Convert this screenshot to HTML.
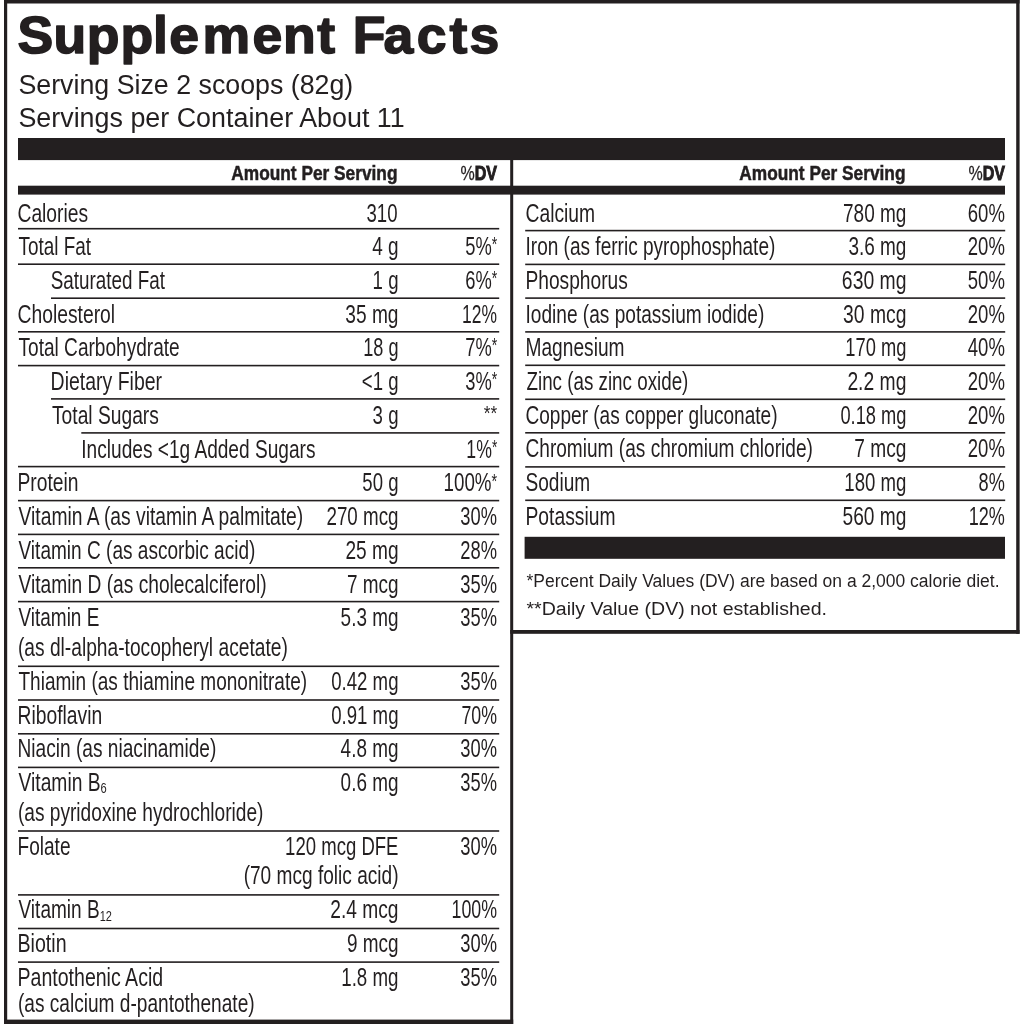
<!DOCTYPE html>
<html><head><meta charset="utf-8"><title>Supplement Facts</title>
<style>
html,body{margin:0;padding:0;background:#fff;width:1024px;height:1024px;overflow:hidden}
svg{display:block;will-change:transform}
text{font-family:"Liberation Sans",Arial,sans-serif;fill:#231f20}
rect{fill:#231f20}
</style></head><body>
<svg width="1024" height="1024" viewBox="0 0 1024 1024">
<rect x="4" y="0" width="1015.50" height="3.50"/>
<rect x="4" y="0" width="3.20" height="1024.00"/>
<rect x="1016.2" y="0" width="3.40" height="633.80"/>
<rect x="510.2" y="630.0" width="509.40" height="3.80"/>
<rect x="510.2" y="160" width="3.00" height="864.00"/>
<rect x="4" y="1019.6" width="509.20" height="4.40"/>
<rect x="18" y="138" width="987.00" height="22.10"/>
<rect x="18" y="185.7" width="987.00" height="8.90"/>
<rect x="524.6" y="536.8" width="480.40" height="22.00"/>
<rect x="18" y="227.89999999999998" width="481.20" height="1.60"/>
<rect x="18" y="263.4" width="481.20" height="1.60"/>
<rect x="51" y="297.4" width="448.20" height="1.60"/>
<rect x="18" y="331.0" width="481.20" height="1.60"/>
<rect x="18" y="364.8" width="481.20" height="1.60"/>
<rect x="51" y="398.09999999999997" width="448.20" height="1.60"/>
<rect x="81.3" y="432.09999999999997" width="417.90" height="1.60"/>
<rect x="18" y="465.8" width="481.20" height="1.60"/>
<rect x="18" y="499.8" width="481.20" height="1.60"/>
<rect x="18" y="533.6" width="481.20" height="1.60"/>
<rect x="18" y="567.0" width="481.20" height="1.60"/>
<rect x="18" y="600.8000000000001" width="481.20" height="1.60"/>
<rect x="18" y="665.5" width="481.20" height="1.60"/>
<rect x="18" y="699.2" width="481.20" height="1.60"/>
<rect x="18" y="733.0" width="481.20" height="1.60"/>
<rect x="18" y="766.6" width="481.20" height="1.60"/>
<rect x="18" y="830.2" width="481.20" height="1.60"/>
<rect x="18" y="894.1" width="481.20" height="1.60"/>
<rect x="18" y="927.7" width="481.20" height="1.60"/>
<rect x="18" y="961.3000000000001" width="481.20" height="1.60"/>
<rect x="525.2" y="229.79999999999998" width="480.00" height="1.60"/>
<rect x="525.2" y="263.59999999999997" width="480.00" height="1.60"/>
<rect x="525.2" y="297.3" width="480.00" height="1.60"/>
<rect x="525.2" y="331.09999999999997" width="480.00" height="1.60"/>
<rect x="525.2" y="364.5" width="480.00" height="1.60"/>
<rect x="525.2" y="398.5" width="480.00" height="1.60"/>
<rect x="525.2" y="432.0" width="480.00" height="1.60"/>
<rect x="525.2" y="466.09999999999997" width="480.00" height="1.60"/>
<rect x="525.2" y="499.5" width="480.00" height="1.60"/>
<text transform="translate(18.40 93.70) scale(0.9997 1)" text-anchor="start" font-size="26.8" >Serving Size 2 scoops (82g)</text>
<text transform="translate(18.40 127.00) scale(1.0029 1)" text-anchor="start" font-size="26.8" >Servings per Container About 11</text>
<text transform="translate(397.50 179.60) scale(0.8653 1)" text-anchor="end" font-size="20" font-weight="bold" stroke="#231f20" stroke-width="0.5">Amount Per Serving</text>
<text transform="translate(497.00 179.60) scale(0.8020 1)" text-anchor="end" font-size="20" font-weight="bold" stroke="#231f20" stroke-width="1.0"><tspan font-weight="normal" stroke-width="0.25">%</tspan>DV</text>
<text transform="translate(905.50 179.60) scale(0.8653 1)" text-anchor="end" font-size="20" font-weight="bold" stroke="#231f20" stroke-width="0.5">Amount Per Serving</text>
<text transform="translate(1005.00 179.60) scale(0.8020 1)" text-anchor="end" font-size="20" font-weight="bold" stroke="#231f20" stroke-width="1.0"><tspan font-weight="normal" stroke-width="0.25">%</tspan>DV</text>
<text transform="translate(17.50 221.70) scale(0.7403 1)" text-anchor="start" font-size="26.0" >Calories</text>
<text transform="translate(397.50 221.70) scale(0.7154 1)" text-anchor="end" font-size="26.0" >310</text>
<text transform="translate(18.50 255.30) scale(0.7280 1)" text-anchor="start" font-size="26.0" >Total Fat</text>
<text transform="translate(398.50 255.30) scale(0.7291 1)" text-anchor="end" font-size="26.0" >4 g</text>
<text transform="translate(497.20 255.30) scale(0.7060 1)" text-anchor="end" font-size="26.0" >5%<tspan font-size="20" dy="-3.9">*</tspan></text>
<text transform="translate(50.80 289.30) scale(0.7248 1)" text-anchor="start" font-size="26.0" >Saturated Fat</text>
<text transform="translate(398.50 289.30) scale(0.7166 1)" text-anchor="end" font-size="26.0" >1 g</text>
<text transform="translate(497.20 289.30) scale(0.7060 1)" text-anchor="end" font-size="26.0" >6%<tspan font-size="20" dy="-3.9">*</tspan></text>
<text transform="translate(17.50 322.80) scale(0.7427 1)" text-anchor="start" font-size="26.0" >Cholesterol</text>
<text transform="translate(398.50 322.80) scale(0.7364 1)" text-anchor="end" font-size="26.0" >35 mg</text>
<text transform="translate(497.00 322.80) scale(0.6714 1)" text-anchor="end" font-size="26.0" >12%</text>
<text transform="translate(18.50 356.30) scale(0.7341 1)" text-anchor="start" font-size="26.0" >Total Carbohydrate</text>
<text transform="translate(398.50 356.30) scale(0.6972 1)" text-anchor="end" font-size="26.0" >18 g</text>
<text transform="translate(497.20 356.30) scale(0.7060 1)" text-anchor="end" font-size="26.0" >7%<tspan font-size="20" dy="-3.9">*</tspan></text>
<text transform="translate(50.60 390.00) scale(0.7493 1)" text-anchor="start" font-size="26.0" >Dietary Fiber</text>
<text transform="translate(398.50 390.00) scale(0.7146 1)" text-anchor="end" font-size="26.0" >&lt;1 g</text>
<text transform="translate(497.20 390.00) scale(0.7060 1)" text-anchor="end" font-size="26.0" >3%<tspan font-size="20" dy="-3.9">*</tspan></text>
<text transform="translate(52.00 423.80) scale(0.7399 1)" text-anchor="start" font-size="26.0" >Total Sugars</text>
<text transform="translate(398.50 423.80) scale(0.7174 1)" text-anchor="end" font-size="26.0" >3 g</text>
<text transform="translate(497.20 423.80) scale(0.8620 1)" text-anchor="end" font-size="26.0" ><tspan font-size="20" dy="-3.9">**</tspan></text>
<text transform="translate(81.30 457.50) scale(0.7353 1)" text-anchor="start" font-size="26.0" >Includes &lt;1g Added Sugars</text>
<text transform="translate(497.20 457.50) scale(0.6799 1)" text-anchor="end" font-size="26.0" >1%<tspan font-size="20" dy="-3.9">*</tspan></text>
<text transform="translate(17.50 491.40) scale(0.7412 1)" text-anchor="start" font-size="26.0" >Protein</text>
<text transform="translate(398.50 491.40) scale(0.7146 1)" text-anchor="end" font-size="26.0" >50 g</text>
<text transform="translate(497.20 491.40) scale(0.7225 1)" text-anchor="end" font-size="26.0" >100%<tspan font-size="20" dy="-3.9">*</tspan></text>
<text transform="translate(18.50 525.20) scale(0.7423 1)" text-anchor="start" font-size="26.0" >Vitamin A (as vitamin A palmitate)</text>
<text transform="translate(398.50 525.20) scale(0.7228 1)" text-anchor="end" font-size="26.0" >270 mcg</text>
<text transform="translate(497.00 525.20) scale(0.7041 1)" text-anchor="end" font-size="26.0" >30%</text>
<text transform="translate(18.50 558.80) scale(0.7334 1)" text-anchor="start" font-size="26.0" >Vitamin C (as ascorbic acid)</text>
<text transform="translate(398.50 558.80) scale(0.7350 1)" text-anchor="end" font-size="26.0" >25 mg</text>
<text transform="translate(497.00 558.80) scale(0.7060 1)" text-anchor="end" font-size="26.0" >28%</text>
<text transform="translate(18.50 592.70) scale(0.7383 1)" text-anchor="start" font-size="26.0" >Vitamin D (as cholecalciferol)</text>
<text transform="translate(398.50 592.70) scale(0.7291 1)" text-anchor="end" font-size="26.0" >7 mcg</text>
<text transform="translate(497.00 592.70) scale(0.7060 1)" text-anchor="end" font-size="26.0" >35%</text>
<text transform="translate(18.50 626.30) scale(0.7296 1)" text-anchor="start" font-size="26.0" >Vitamin E</text>
<text transform="translate(398.50 626.30) scale(0.7286 1)" text-anchor="end" font-size="26.0" >5.3 mg</text>
<text transform="translate(497.00 626.30) scale(0.7060 1)" text-anchor="end" font-size="26.0" >35%</text>
<text transform="translate(17.90 656.20) scale(0.7386 1)" text-anchor="start" font-size="26.0" >(as dl-alpha-tocopheryl acetate)</text>
<text transform="translate(18.50 690.00) scale(0.7322 1)" text-anchor="start" font-size="26.0" >Thiamin (as thiamine mononitrate)</text>
<text transform="translate(398.50 690.00) scale(0.7166 1)" text-anchor="end" font-size="26.0" >0.42 mg</text>
<text transform="translate(497.00 690.00) scale(0.7060 1)" text-anchor="end" font-size="26.0" >35%</text>
<text transform="translate(17.50 723.80) scale(0.7422 1)" text-anchor="start" font-size="26.0" >Riboflavin</text>
<text transform="translate(398.50 723.80) scale(0.7166 1)" text-anchor="end" font-size="26.0" >0.91 mg</text>
<text transform="translate(497.00 723.80) scale(0.6828 1)" text-anchor="end" font-size="26.0" >70%</text>
<text transform="translate(17.50 757.30) scale(0.7361 1)" text-anchor="start" font-size="26.0" >Niacin (as niacinamide)</text>
<text transform="translate(398.50 757.30) scale(0.7286 1)" text-anchor="end" font-size="26.0" >4.8 mg</text>
<text transform="translate(497.00 757.30) scale(0.7060 1)" text-anchor="end" font-size="26.0" >30%</text>
<text transform="translate(18.50 790.80) scale(0.7409 1)" text-anchor="start" font-size="26.0" >Vitamin B<tspan font-size="15" dy="2.6">6</tspan></text>
<text transform="translate(398.50 790.80) scale(0.7286 1)" text-anchor="end" font-size="26.0" >0.6 mg</text>
<text transform="translate(497.00 790.80) scale(0.7060 1)" text-anchor="end" font-size="26.0" >35%</text>
<text transform="translate(17.90 820.80) scale(0.7362 1)" text-anchor="start" font-size="26.0" >(as pyridoxine hydrochloride)</text>
<text transform="translate(17.50 854.60) scale(0.7336 1)" text-anchor="start" font-size="26.0" >Folate</text>
<text transform="translate(398.50 854.60) scale(0.7139 1)" text-anchor="end" font-size="26.0" >120 mcg DFE</text>
<text transform="translate(497.00 854.60) scale(0.7060 1)" text-anchor="end" font-size="26.0" >30%</text>
<text transform="translate(398.50 884.40) scale(0.7345 1)" text-anchor="end" font-size="26.0" >(70 mcg folic acid)</text>
<text transform="translate(18.50 918.00) scale(0.7326 1)" text-anchor="start" font-size="26.0" >Vitamin B<tspan font-size="15" dy="2.6">12</tspan></text>
<text transform="translate(398.50 918.00) scale(0.7383 1)" text-anchor="end" font-size="26.0" >2.4 mcg</text>
<text transform="translate(497.00 918.00) scale(0.6845 1)" text-anchor="end" font-size="26.0" >100%</text>
<text transform="translate(17.50 951.90) scale(0.7542 1)" text-anchor="start" font-size="26.0" >Biotin</text>
<text transform="translate(398.50 951.90) scale(0.7291 1)" text-anchor="end" font-size="26.0" >9 mcg</text>
<text transform="translate(497.00 951.90) scale(0.7060 1)" text-anchor="end" font-size="26.0" >30%</text>
<text transform="translate(17.50 985.80) scale(0.7518 1)" text-anchor="start" font-size="26.0" >Pantothenic Acid</text>
<text transform="translate(398.50 985.80) scale(0.7206 1)" text-anchor="end" font-size="26.0" >1.8 mg</text>
<text transform="translate(497.00 985.80) scale(0.7060 1)" text-anchor="end" font-size="26.0" >35%</text>
<text transform="translate(17.90 1011.80) scale(0.7353 1)" text-anchor="start" font-size="26.0" >(as calcium d-pantothenate)</text>
<text transform="translate(525.50 221.70) scale(0.7416 1)" text-anchor="start" font-size="26.0" >Calcium</text>
<text transform="translate(906.40 221.70) scale(0.7314 1)" text-anchor="end" font-size="26.0" >780 mg</text>
<text transform="translate(1004.90 221.70) scale(0.7137 1)" text-anchor="end" font-size="26.0" >60%</text>
<text transform="translate(525.50 255.30) scale(0.7329 1)" text-anchor="start" font-size="26.0" >Iron (as ferric pyrophosphate)</text>
<text transform="translate(906.40 255.30) scale(0.7298 1)" text-anchor="end" font-size="26.0" >3.6 mg</text>
<text transform="translate(1004.90 255.30) scale(0.7137 1)" text-anchor="end" font-size="26.0" >20%</text>
<text transform="translate(525.50 289.30) scale(0.7379 1)" text-anchor="start" font-size="26.0" >Phosphorus</text>
<text transform="translate(906.40 289.30) scale(0.7445 1)" text-anchor="end" font-size="26.0" >630 mg</text>
<text transform="translate(1004.90 289.30) scale(0.7137 1)" text-anchor="end" font-size="26.0" >50%</text>
<text transform="translate(525.50 322.80) scale(0.7350 1)" text-anchor="start" font-size="26.0" >Iodine (as potassium iodide)</text>
<text transform="translate(906.40 322.80) scale(0.7434 1)" text-anchor="end" font-size="26.0" >30 mcg</text>
<text transform="translate(1004.90 322.80) scale(0.7137 1)" text-anchor="end" font-size="26.0" >20%</text>
<text transform="translate(525.50 356.40) scale(0.7373 1)" text-anchor="start" font-size="26.0" >Magnesium</text>
<text transform="translate(906.40 356.40) scale(0.7042 1)" text-anchor="end" font-size="26.0" >170 mg</text>
<text transform="translate(1004.90 356.40) scale(0.7137 1)" text-anchor="end" font-size="26.0" >40%</text>
<text transform="translate(526.50 390.20) scale(0.7233 1)" text-anchor="start" font-size="26.0" >Zinc (as zinc oxide)</text>
<text transform="translate(906.40 390.20) scale(0.7427 1)" text-anchor="end" font-size="26.0" >2.2 mg</text>
<text transform="translate(1004.90 390.20) scale(0.7137 1)" text-anchor="end" font-size="26.0" >20%</text>
<text transform="translate(525.50 423.60) scale(0.7332 1)" text-anchor="start" font-size="26.0" >Copper (as copper gluconate)</text>
<text transform="translate(906.40 423.60) scale(0.7026 1)" text-anchor="end" font-size="26.0" >0.18 mg</text>
<text transform="translate(1004.90 423.60) scale(0.7137 1)" text-anchor="end" font-size="26.0" >20%</text>
<text transform="translate(525.50 457.40) scale(0.7345 1)" text-anchor="start" font-size="26.0" >Chromium (as chromium chloride)</text>
<text transform="translate(906.40 457.40) scale(0.7365 1)" text-anchor="end" font-size="26.0" >7 mcg</text>
<text transform="translate(1004.90 457.40) scale(0.7137 1)" text-anchor="end" font-size="26.0" >20%</text>
<text transform="translate(525.50 491.20) scale(0.7338 1)" text-anchor="start" font-size="26.0" >Sodium</text>
<text transform="translate(906.40 491.20) scale(0.7160 1)" text-anchor="end" font-size="26.0" >180 mg</text>
<text transform="translate(1004.90 491.20) scale(0.6996 1)" text-anchor="end" font-size="26.0" >8%</text>
<text transform="translate(525.50 525.20) scale(0.7426 1)" text-anchor="start" font-size="26.0" >Potassium</text>
<text transform="translate(906.40 525.20) scale(0.7374 1)" text-anchor="end" font-size="26.0" >560 mg</text>
<text transform="translate(1004.90 525.20) scale(0.6953 1)" text-anchor="end" font-size="26.0" >12%</text>
<text transform="translate(526.50 587.20) scale(0.9210 1)" text-anchor="start" font-size="19.0" >*Percent Daily Values (DV) are based on a 2,000 calorie diet.</text>
<text transform="translate(526.50 615.30) scale(1.0292 1)" text-anchor="start" font-size="19.0" >**Daily Value (DV) not established.</text>
<text transform="translate(0 53.1) scale(1.03 1)" x="16.95 51.94 84.15 116.92 148.63 164.25 196.59 245.07 274.84 307.94 325.26 342.46 372.38 404.70 436.34 455.94" y="0" font-size="52.0" font-weight="bold" stroke="#231f20" stroke-width="1.5" stroke-linejoin="round">Supplement Facts</text>
</svg>
</body></html>
